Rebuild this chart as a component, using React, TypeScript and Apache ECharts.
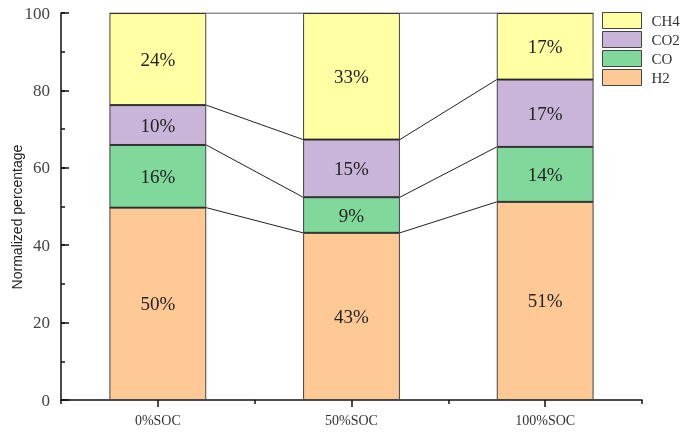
import React, { useEffect, useRef } from "react";
import * as echarts from "echarts";

const categories = ["0%SOC", "50%SOC", "100%SOC"];
const seriesNames = ["H2", "CO", "CO2", "CH4"];
const h2 = [49.7, 43.2, 51.2];
const co = [16.2, 9.2, 14.2];
const co2 = [10.3, 14.9, 17.4];
const ch4 = [23.8, 32.7, 17.2];
const colors = ["#FFC995", "#80D89B", "#C9B5DA", "#FFFFA3"];
const legendOrder = ["CH4", "CO2", "CO", "H2"];
const yTicks = [0, 20, 40, 60, 80, 100];

export default function App() {
  const ref = useRef<HTMLDivElement>(null);
  useEffect(() => {
    if (!ref.current) return;
    const chart = echarts.init(ref.current, null, { renderer: "svg" });
    const values = [h2, co, co2, ch4];
    const serif = "'Liberation Serif', 'Times New Roman', serif";
    const bars = values.map((vals, k) => ({
      name: seriesNames[k],
      type: "bar",
      stack: "total",
      barWidth: "50%",
      xAxisIndex: 0,
      yAxisIndex: 0,
      data: vals,
      itemStyle: { color: colors[k], borderColor: "#444", borderWidth: 1 },
      label: {
        show: true,
        position: "inside",
        formatter: (p: any) => Math.round(p.value) + "%",
        fontFamily: serif,
        fontSize: 19,
        color: "#222",
      },
    }));
    const cums: number[][] = [];
    let run = [0, 0, 0];
    values.forEach((vals) => {
      run = run.map((r, i) => r + vals[i]);
      cums.push(run.slice());
    });
    const lines = cums.map((c, k) => ({
      name: "line" + k,
      type: "line",
      xAxisIndex: 2,
      yAxisIndex: 0,
      silent: true,
      symbol: "none",
      z: 3,
      lineStyle: { color: "#222", width: 1 },
      data: c.flatMap((v, i) => [
        [i - 0.25, v],
        [i + 0.25, v],
      ]),
    }));
    const yMin = yTicks[0];
    const yMax = yTicks[yTicks.length - 1];
    chart.setOption({
      animation: false,
      grid: { left: 61, right: 48, top: 13, bottom: 37, containLabel: false },
      legend: {
        data: legendOrder,
        orient: "vertical",
        left: 602,
        top: 12,
        padding: 0,
        itemWidth: 39,
        itemHeight: 16,
        itemGap: 2,
        icon: "rect",
        itemStyle: { borderColor: "#444", borderWidth: 1 },
        textStyle: { fontFamily: serif, fontSize: 15, color: "#333", padding: [0, 0, 0, 5] },
      },
      xAxis: [
        {
          type: "category",
          data: categories,
          position: "bottom",
          axisLine: { show: true, onZero: false, lineStyle: { color: "#111", width: 1.5 } },
          axisTick: { show: true, alignWithLabel: true, length: 7, lineStyle: { color: "#111", width: 1.5 } },
          axisLabel: { fontFamily: serif, fontSize: 14, color: "#333", margin: 13 },
          splitLine: { show: false },
        },
        {
          type: "category",
          data: categories,
          position: "bottom",
          axisLine: { show: false, onZero: false },
          axisTick: { show: true, length: 4, lineStyle: { color: "#111", width: 1.5 } },
          axisLabel: { show: false },
          splitLine: { show: false },
        },
        { type: "value", min: -0.5, max: 2.5, show: false, axisLine: { onZero: false } },
      ],
      yAxis: [
        {
          type: "value",
          position: "left",
          min: yMin,
          max: yMax,
          interval: 20,
          axisLine: { show: true, onZero: false, lineStyle: { color: "#111", width: 1.5 } },
          axisTick: { show: true, inside: true, length: 8, lineStyle: { color: "#111", width: 1.5 } },
          axisLabel: { fontFamily: serif, fontSize: 17, color: "#444", margin: 11 },
          splitLine: { show: false },
        },
        {
          type: "value",
          position: "left",
          min: yMin,
          max: yMax,
          interval: 10,
          axisLine: { show: false, onZero: false },
          axisTick: { show: true, inside: true, length: 4, lineStyle: { color: "#111", width: 1.5 } },
          axisLabel: { show: false },
          splitLine: { show: false },
        },
      ],
      graphic: [
        {
          type: "text",
          x: 17,
          y: 217,
          rotation: Math.PI / 2,
          style: {
            text: "Normalized percentage",
            fontFamily: "'Liberation Sans', Arial, sans-serif",
            fontSize: 14,
            fill: "#222",
            align: "center",
            verticalAlign: "middle",
          },
        },
      ],
      series: [...bars, ...lines],
    });
    return () => chart.dispose();
  }, []);
  return <div ref={ref} style={{ position: "fixed", left: 0, top: 0, width: 690, height: 437 }} />;
}
